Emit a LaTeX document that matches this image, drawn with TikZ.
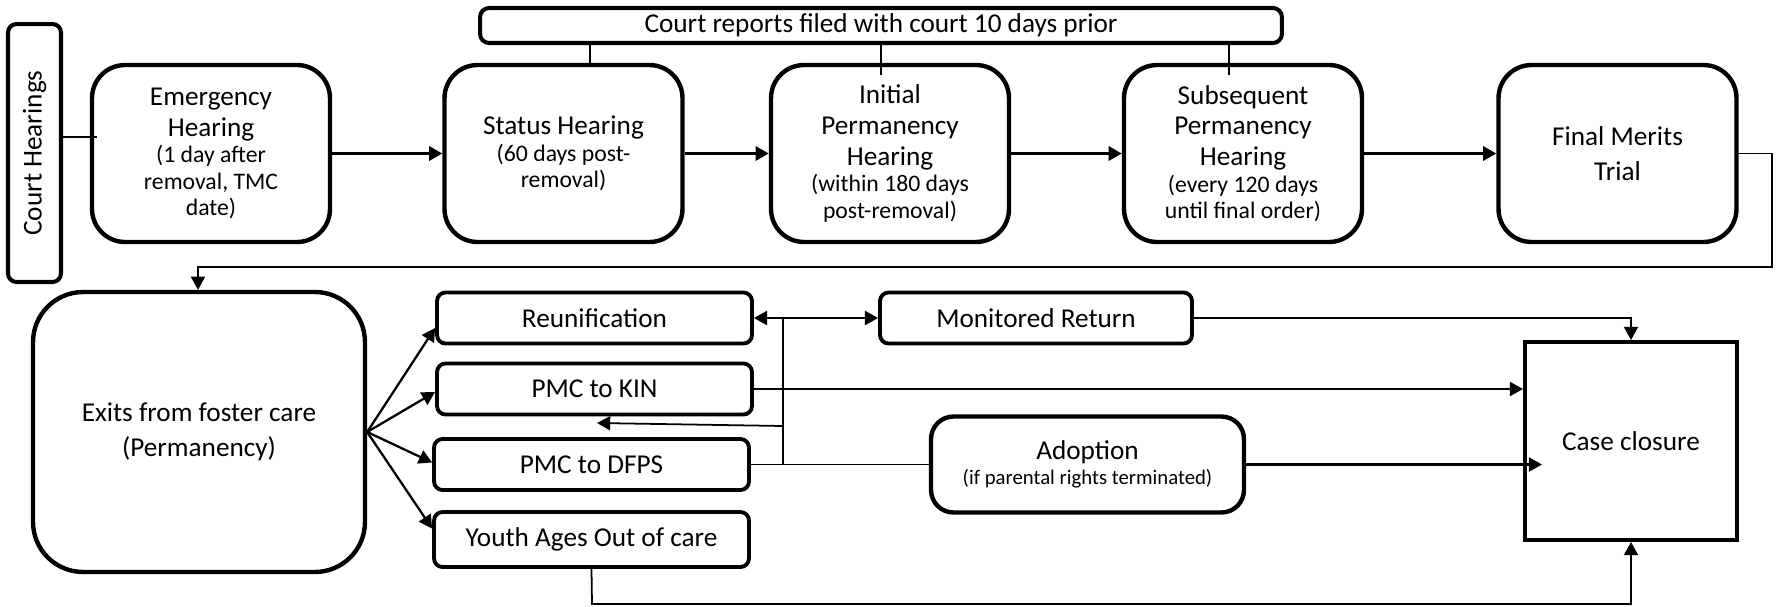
\documentclass[tikz,border=0pt]{standalone}
\usepackage{fontspec}
\setmainfont{Carlito}
\usetikzlibrary{arrows.meta}
\newcommand\fbig{\fontsize{15.5}{17.5}\selectfont}
\newcommand\fsmall{\fontsize{13.5}{15}\selectfont}
\newcommand\fsub{\fontsize{11.8}{14}\selectfont}
\begin{document}
\begin{tikzpicture}[x=0.02cm,y=-0.02cm,
  hbox/.style={draw, line width=2.5pt, rounded corners=0.66cm, fill=white, inner sep=0pt,
     minimum width=4.76cm, minimum height=3.54cm, text width=4.5cm, align=flush center, font=\fbig},
  sbox/.style={draw, line width=2.2pt, rounded corners=0.17cm, fill=white, inner sep=0pt,
     minimum width=6.3cm, minimum height=1.02cm, align=flush center, font=\fbig},
  arr/.style={-{Triangle[length=7.5pt,width=8pt]}},
  lwtop/.style={line width=1.7pt},
  lwmid/.style={line width=1.3pt},
  lwreg/.style={line width=1pt},
  lwthin/.style={line width=0.6pt}]
\useasboundingbox (0,0) rectangle (1779,606);
\fill[white] (0,0) rectangle (1779,606);

% top row
\node[draw, line width=2.3pt, rounded corners=0.17cm, fill=white, inner sep=0pt,
  minimum width=5.16cm, minimum height=1.06cm, rotate=90, font=\fbig] (court) at (34.5,153) {Court Hearings};
\node[hbox] (em) at (211,153.5) {Emergency\\Hearing\par\fsmall (1 day after\\removal, TMC\\date)\par};
\node[hbox] (st) at (563.5,153.5) {Status Hearing\par\fsmall (60 days post-\\removal)\par};
\node[hbox] (ip) at (890,153.5) {Initial\\Permanency\\Hearing\par\fsmall (within 180 days\\post-removal)\par};
\node[hbox] (sp) at (1243,153.5) {Subsequent\\Permanency\\Hearing\par\fsmall (every 120 days\\until final order)\par};
\node[hbox] (fm) at (1617.5,153.5) {\fontsize{15.5}{20}\selectfont Final Merits\\Trial\par};
\node[draw, line width=2.3pt, rounded corners=0.18cm, fill=white, inner sep=0pt,
  minimum width=16.04cm, minimum height=0.7cm, font=\fbig] (rep) at (881,25.5) {Court reports filed with court 10 days prior};

% bottom part
\node[draw, line width=2.5pt, rounded corners=1cm, fill=white, inner sep=0pt,
  minimum width=6.64cm, minimum height=5.6cm, align=flush center, font=\fontsize{15.5}{20}\selectfont] (ex) at (199,432) {Exits from foster care\\(Permanency)};
\node[sbox] (ru) at (594.5,318) {Reunification};
\node[sbox] (kin) at (594.5,389) {PMC to KIN};
\node[sbox] (df) at (591.5,464.5) {PMC to DFPS};
\node[sbox, minimum height=1.1cm] (yo) at (591.5,539.5) {Youth Ages Out of care};
\node[sbox, minimum width=6.24cm] (mr) at (1036,318) {Monitored Return};
\node[draw, line width=2.5pt, rounded corners=0.45cm, fill=white, inner sep=0pt,
  minimum width=6.26cm, minimum height=1.92cm, text width=6cm, align=flush center, font=\fbig] (ad) at (1087.5,464.5)
  {Adoption\par\fsub (if parental rights terminated)\par};
\node[draw, line width=2.3pt, fill=white, inner sep=0pt,
  minimum width=4.24cm, minimum height=3.96cm, font=\fbig] (cc) at (1631,441) {Case closure};

% connectors top
\coordinate (c1) at (97,137);
\draw[lwthin] (court.south |- c1) -- (c1);
\draw[arr, lwtop] (em.east) -- (st.west);
\draw[arr, lwtop] (st.east) -- (ip.west);
\draw[arr, lwtop] (ip.east) -- (sp.west);
\draw[arr, lwtop] (sp.east) -- (fm.west);
\coordinate (r1) at (590,0);
\coordinate (r2) at (881,75);
\coordinate (r3) at (1229,75);
\draw[lwthin] (rep.south -| r1) -- (st.north -| r1);
\draw[lwthin] (rep.south -| r2) -- (r2);
\draw[lwthin] (rep.south -| r3) -- (r3);

% loop to exits
\coordinate (lpR) at (1772,267);
\coordinate (lpL) at (198,267);
\draw[arr, lwreg] (fm.east) -| (lpR) -- (lpL) -- (ex.north -| lpL);

% fan
\draw[arr, lwmid] (ex.east) -- ([yshift=-0.2cm]ru.west);
\draw[arr, lwmid] (ex.east) -- ([yshift=-0.06cm]kin.west);
\draw[arr, lwmid] (ex.east) -- ([yshift=0.04cm]df.west);
\draw[arr, lwmid] (ex.east) -- ([yshift=0.22cm]yo.west);

% junction
\coordinate (J) at (783,318);
\coordinate (J2) at (783,426);
\coordinate (kb) at (597,423);
\draw[lwreg] (df.east) -- (ad.west);
\draw[lwreg] (J |- df.east) -- (J);
\draw[arr, lwmid] (J) -- (ru.east);
\draw[arr, lwmid] (J) -- (mr.west);
\draw[arr, lwreg] (J2) -- (kb);

% to case closure
\draw[arr, lwmid] (kin.east) -- (kin.east -| cc.west);
\draw[arr, lwreg] (mr.east) -| (cc.north);
\coordinate (ae) at (1542,464.5);
\draw[arr, lwmid] (ad.east) -- (ae);
\coordinate (yb) at (592,604);
\draw[arr, lwreg] (yo.south) -- (yb) -| (cc.south);
\end{tikzpicture}
\end{document}
